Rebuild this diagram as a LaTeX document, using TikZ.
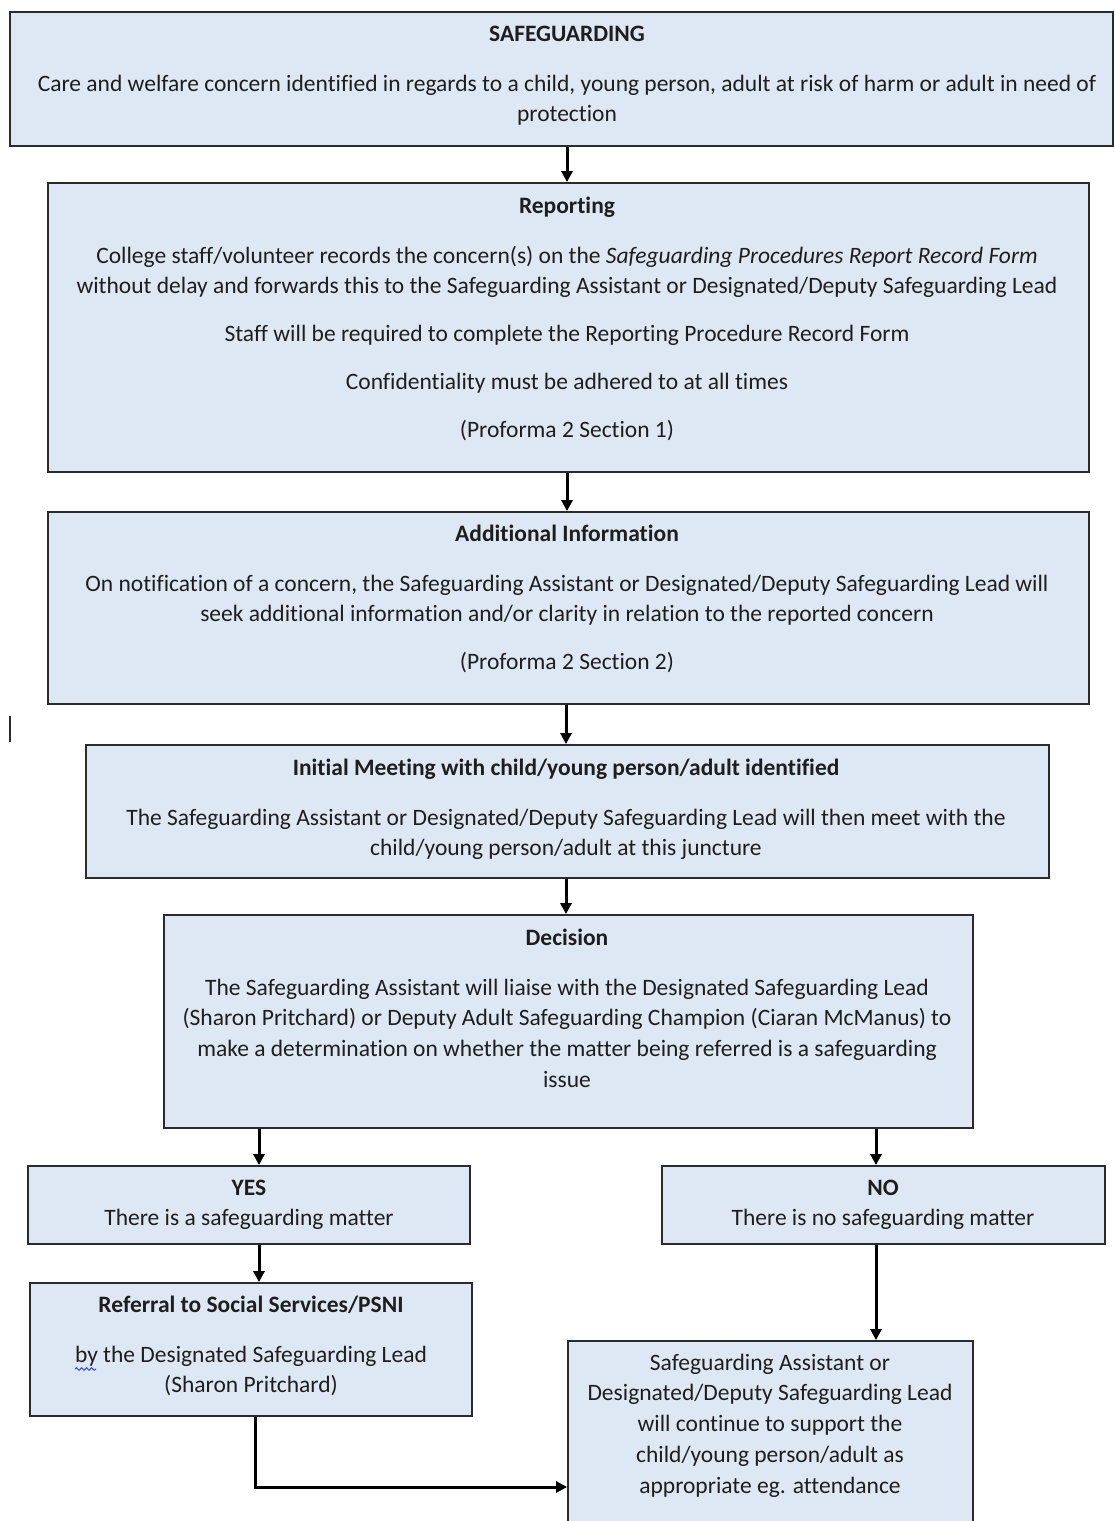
\documentclass[tikz,border=0pt]{standalone}
\usepackage{fontspec}
\setmainfont[Ligatures=NoCommon]{Carlito}
\usetikzlibrary{arrows.meta,decorations.pathmorphing}
\definecolor{boxfill}{HTML}{DEE8F4}
\definecolor{boxline}{HTML}{2B2B2B}
\definecolor{txtc}{HTML}{1E1E1E}
\tikzset{
  box/.style={draw=boxline, fill=boxfill, line width=1.8pt, rectangle, inner sep=0pt},
  txt/.style={text=txtc, font=\fontsize{23.5}{30.8}\selectfont, align=center, anchor=base, inner sep=0pt},
  ttl/.style={txt, font=\fontsize{23.5}{30.8}\selectfont\bfseries},
  arr/.style={-{Triangle[length=11pt,width=11pt]}, line width=3pt, black},
}
\begin{document}
\begin{tikzpicture}[x=1pt,y=-1pt]
\useasboundingbox (0,0) rectangle (1115,1521);
% boxes
\node[box, minimum width=1103pt, minimum height=134pt] (b1) at (561.5,79) {};
\node[box, minimum width=1041pt, minimum height=289pt] (b2) at (568.5,327.5) {};
\node[box, minimum width=1041pt, minimum height=192pt] (b3) at (568.5,608) {};
\node[box, minimum width=963pt, minimum height=133pt] (b4) at (567.5,811.5) {};
\node[box, minimum width=809pt, minimum height=213pt] (b5) at (568.5,1021.5) {};
\node[box, minimum width=442pt, minimum height=78pt] (yes) at (249,1205) {};
\node[box, minimum width=443pt, minimum height=78pt] (no) at (883.5,1205) {};
\node[box, minimum width=442pt, minimum height=133pt] (ref) at (251,1349.5) {};
\node[box, minimum width=405pt, minimum height=204pt] (bot) at (770.5,1443) {};
% texts (anchor = baseline of the last line)
\node[ttl] (t1a) at (567,41) {SAFEGUARDING};
\node[txt] (t1b) at (567,121.8) {Care and welfare concern identified in regards to a child, young person, adult at risk of harm or adult in need of\\protection};
\node[ttl] (t2a) at (567,213) {Reporting};
\node[txt] (t2b) at (567,293.8) {College staff/volunteer records the concern(s) on the \textit{Safeguarding Procedures Report Record Form}\\without delay and forwards this to the Safeguarding Assistant or Designated/Deputy Safeguarding Lead};
\node[txt] (t2c) at (567,341) {Staff will be required to complete the Reporting Procedure Record Form};
\node[txt] (t2d) at (567,389) {Confidentiality must be adhered to at all times};
\node[txt] (t2e) at (567,437) {(Proforma 2 Section 1)};
\node[ttl] (t3a) at (567,541) {Additional Information};
\node[txt] (t3b) at (567,621.8) {On notification of a concern, the Safeguarding Assistant or Designated/Deputy Safeguarding Lead will\\seek additional information and/or clarity in relation to the reported concern};
\node[txt] (t3c) at (567,669) {(Proforma 2 Section 2)};
\node[ttl] (t4a) at (566,775) {Initial Meeting with child/young person/adult identified};
\node[txt] (t4b) at (566,855.8) {The Safeguarding Assistant or Designated/Deputy Safeguarding Lead will then meet with the\\child/young person/adult at this juncture};
\node[ttl] (t5a) at (567,945) {Decision};
\node[txt] (t5b) at (567,1087.4) {The Safeguarding Assistant will liaise with the Designated Safeguarding Lead\\(Sharon Pritchard) or Deputy Adult Safeguarding Champion (Ciaran McManus) to\\make a determination on whether the matter being referred is a safeguarding\\issue};
\node[ttl] (tya) at (249,1195) {YES};
\node[txt] (tyb) at (249,1225) {There is a safeguarding matter};
\node[ttl] (tna) at (883,1195) {NO};
\node[txt] (tnb) at (883,1225) {There is no safeguarding matter};
\node[ttl] (tra) at (251,1312) {Referral to Social Services/PSNI};
\node[txt] (trb) at (251,1392.8) {by the Designated Safeguarding Lead\\(Sharon Pritchard)};
\node[txt] (tbt) at (770,1493.2) {Safeguarding Assistant or\\Designated/Deputy Safeguarding Lead\\will continue to support the\\child/young person/adult as\\appropriate eg. attendance};
% spell-check squiggle
\draw[blue!75, decorate, decoration={snake, amplitude=1.3pt, segment length=5pt}, line width=1pt] (75,1369) -- (96,1369);
% stray cursor mark
\draw[line width=1.6pt, boxline] (10,716) -- (10,742);
% arrow x positions
\coordinate (xa) at (567,0);
\coordinate (xb) at (566,0);
\coordinate (xy) at (259,0);
\coordinate (xn) at (876,0);
\coordinate (xr) at (255,0);
\coordinate (yj) at (0,1487);
% connectors
\draw[arr] (b1.south -| xa) -- (b2.north -| xa);
\draw[arr] (b2.south -| xa) -- (b3.north -| xa);
\draw[arr] (b3.south -| xb) -- (b4.north -| xb);
\draw[arr] (b4.south -| xb) -- (b5.north -| xb);
\draw[arr] (b5.south -| xy) -- (yes.north -| xy);
\draw[arr] (b5.south -| xn) -- (no.north -| xn);
\draw[arr] (yes.south -| xy) -- (ref.north -| xy);
\draw[arr] (no.south -| xn) -- (bot.north -| xn);
\draw[arr] (ref.south -| xr) -- (yj -| xr) -- (bot.west |- yj);
\end{tikzpicture}
\end{document}
